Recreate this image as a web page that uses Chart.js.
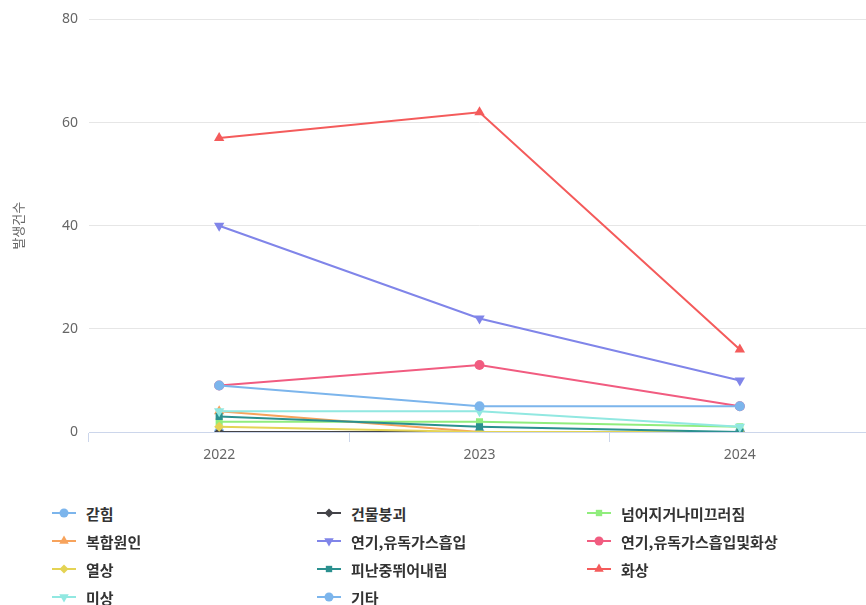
<!DOCTYPE html>
<html lang="ko">
<head>
<meta charset="utf-8">
<title>발생건수</title>
<script src="https://cdn.jsdelivr.net/npm/chart.js@4.4.1/dist/chart.umd.min.js"></script>
<style>
  html, body { margin: 0; padding: 0; background: #fff; }
  #wrap { position: relative; width: 866px; height: 605px; overflow: hidden; }
  #chart { position: absolute; left: 0; top: 0; }
  #legend {
    position: absolute; left: 52px; top: 499px;
    display: grid; grid-template-columns: 265px 270px 260px;
    grid-auto-rows: 28px;
    font-family: "Noto Sans CJK KR", "Noto Sans", sans-serif;
    font-size: 15px; font-weight: bold; color: #333;
  }
  .item { display: flex; align-items: center; white-space: nowrap; }
  .item canvas { margin-right: 10px; }
</style>
</head>
<body>
<div id="wrap">
  <canvas id="chart" width="877" height="470"></canvas>
  <div id="legend"></div>
</div>
<script>
// categories and series
const years = ['2022', '2023', '2024'];
const seriesNames = ['갇힘', '건물붕괴', '넘어지거나미끄러짐', '복합원인', '연기,유독가스흡입',
  '연기,유독가스흡입및화상', '열상', '피난중뛰어내림', '화상', '미상', '기타'];

const trapped = [0, 0, 0];
const collapse = [0, 0, 0];
const slipFall = [2, 2, 1];
const compound = [4, 0, 0];
const smoke = [40, 22, 10];
const smokeBurn = [9, 13, 5];
const laceration = [1, 0, 0];
const jumping = [3, 1, 0];
const burn = [57, 62, 16];
const unknown = [4, 4, 1];
const other = [9, 5, 5];

const yTicks = [0, 20, 40, 60, 80];
const yTitle = '발생건수';

const seriesValues = [trapped, collapse, slipFall, compound, smoke, smokeBurn,
  laceration, jumping, burn, unknown, other];

// highcharts-like palette and marker cycle
const colors = ['#7cb5ec', '#434348', '#90ed7d', '#f7a35c', '#8085e9', '#f15c80',
  '#e4d354', '#2b908f', '#f45b5b', '#91e8e1'];
const markers = [
  { style: 'circle', rot: 0, r: 5 },
  { style: 'rectRot', rot: 0, r: 5 },
  { style: 'rect', rot: 0, r: 5 },
  { style: 'triangle', rot: 0, r: 6 },
  { style: 'triangle', rot: 180, r: 6 }
];

const datasets = seriesNames.map((name, i) => {
  const m = markers[i % markers.length];
  const c = colors[i % colors.length];
  return {
    label: name,
    data: seriesValues[i],
    borderColor: c,
    backgroundColor: c,
    borderWidth: 2,
    pointStyle: m.style,
    pointRotation: m.rot,
    pointRadius: m.r,
    pointBorderWidth: 0,
    pointHoverRadius: m.r + 1,
    tension: 0,
    order: -i // later series on top, like the original
  };
});

// fixed axis sizes so the plot area lines up with the original
const fixWidth = (w) => (scale) => { scale.width = w; };
const fixHeight = (h) => (scale) => { scale.height = h; };

const chart = new Chart(document.getElementById('chart').getContext('2d'), {
  type: 'line',
  data: { labels: years, datasets: datasets },
  options: {
    responsive: false,
    animation: false,
    layout: { padding: { top: 19, right: 0, bottom: 0, left: 0 } },
    plugins: {
      legend: { display: false },
      tooltip: { enabled: true }
    },
    scales: {
      x: {
        offset: true,
        afterFit: fixHeight(38),
        border: { color: '#ccd6eb', width: 1 },
        grid: {
          offset: true,
          drawOnChartArea: false,
          color: '#ccd6eb',
          tickLength: 10
        },
        ticks: {
          color: '#666666',
          padding: 5,
          font: { family: 'Noto Sans', size: 14 }
        }
      },
      y: {
        min: yTicks[0],
        max: yTicks[yTicks.length - 1],
        afterFit: fixWidth(89),
        afterBuildTicks: (scale) => { scale.ticks = yTicks.map(v => ({ value: v })); },
        border: { display: false },
        grid: { color: '#e6e6e6', drawTicks: false, lineWidth: 1 },
        ticks: {
          color: '#666666',
          padding: 11,
          font: { family: 'Noto Sans', size: 14 }
        },
        title: {
          display: true,
          text: yTitle,
          color: '#666666',
          padding: { top: 10, bottom: 0 },
          font: { family: 'Noto Sans CJK KR', size: 13 }
        }
      }
    }
  }
});

// html legend: a line with the marker in the middle, then the name
function legendIcon(ds) {
  const cv = document.createElement('canvas');
  cv.width = 24; cv.height = 14;
  const g = cv.getContext('2d');
  g.strokeStyle = ds.borderColor;
  g.fillStyle = ds.backgroundColor;
  g.lineWidth = 2;
  g.beginPath(); g.moveTo(0, 7); g.lineTo(24, 7); g.stroke();
  Chart.helpers.drawPoint(g, {
    pointStyle: ds.pointStyle,
    rotation: ds.pointRotation,
    radius: ds.pointRadius - 0.5,
    borderWidth: 0
  }, 12, 7);
  return cv;
}

const legendBox = document.getElementById('legend');
chart.data.datasets.forEach((ds) => {
  const item = document.createElement('div');
  item.className = 'item';
  item.appendChild(legendIcon(ds));
  const span = document.createElement('span');
  span.textContent = ds.label;
  item.appendChild(span);
  legendBox.appendChild(item);
});
</script>
</body>
</html>
